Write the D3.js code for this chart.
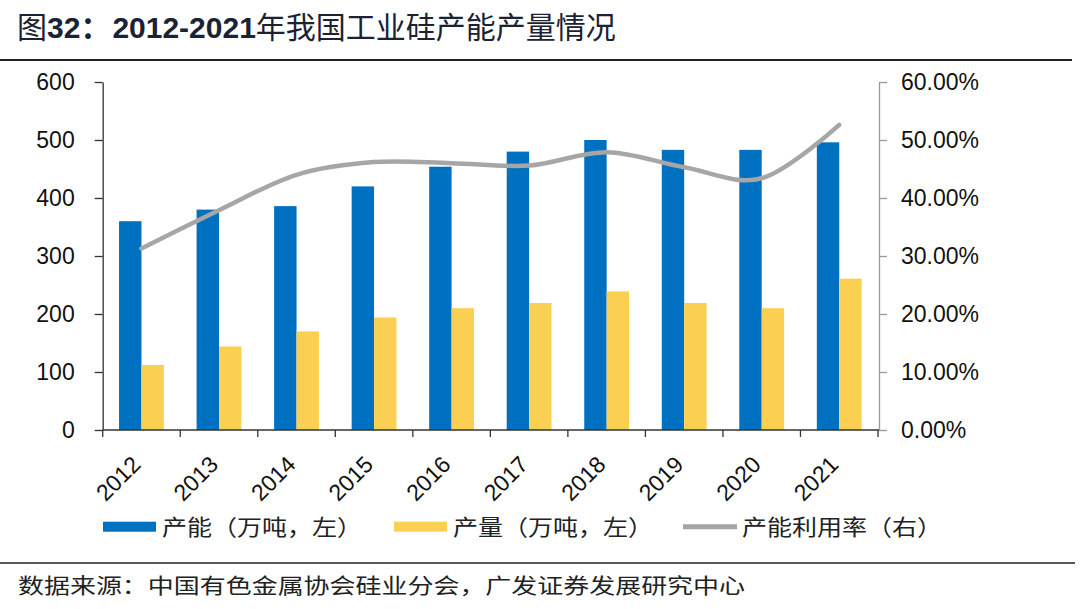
<!DOCTYPE html>
<html>
<head>
<meta charset="utf-8">
<script src="https://cdnjs.cloudflare.com/ajax/libs/d3/7.8.4/d3.min.js"></script>
<style>
  body { margin: 0; background: #fff; }
  svg { display: block; }
  .cn { font-family: "Noto Sans CJK SC", sans-serif; }
  .num { font-family: "Liberation Sans", Arial, sans-serif; }
</style>
</head>
<body>
<div id="chart"></div>
<script>
// data
const years = ["2012","2013","2014","2015","2016","2017","2018","2019","2020","2021"];
const capacity = [360, 380, 386, 420, 454, 480, 500, 483, 483, 496];     // 产能（万吨）
const output   = [112, 144, 170, 194, 210, 219, 239, 219, 210, 261];     // 产量（万吨）
const utilRate = [31.3, 37.9, 44.0, 46.2, 46.0, 45.6, 47.9, 45.3, 43.4, 52.6]; // 产能利用率 %
const leftTicks  = [0, 100, 200, 300, 400, 500, 600];
const rightTicks = [0, 10, 20, 30, 40, 50, 60];

(function(){
  const W = 1080, H = 609;
  const plot = {left: 102.7, right: 878, top: 82, bottom: 430};

  const svg = d3.select("#chart").append("svg")
      .attr("width", W).attr("height", H);

  // title
  const title = svg.append("text")
      .attr("x", 17).attr("y", 38)
      .style("font-size", "30px").style("fill", "#1a2233");
  title.append("tspan").attr("class", "cn").text("图");
  title.append("tspan").attr("class", "num").style("font-weight", "bold").text("32");
  title.append("tspan").attr("class", "cn").style("font-weight", "bold").text("：");
  title.append("tspan").attr("class", "num").style("font-weight", "bold").attr("dx", 2).text("2012-2021");
  title.append("tspan").attr("class", "cn").text("年我国工业硅产能产量情况");

  svg.append("line")
      .attr("x1", 0).attr("x2", 1072).attr("y1", 60).attr("y2", 60)
      .attr("stroke", "#222").attr("stroke-width", 2);

  // scales
  const x = d3.scaleBand().domain(years).range([plot.left, plot.right]).padding(0);
  const xs = d3.scaleBand().domain(["cap", "out"]).range([0, x.bandwidth()])
      .paddingInner(0).paddingOuter(0.73);
  const y = d3.scaleLinear().domain([0, 600]).range([plot.bottom, plot.top]);
  const yr = d3.scaleLinear().domain([0, 60]).range([plot.bottom, plot.top]);

  // bars
  const g = svg.append("g");
  g.selectAll("rect.cap").data(years).join("rect")
      .attr("class", "cap")
      .attr("x", (d) => x(d) + xs("cap"))
      .attr("width", xs.bandwidth())
      .attr("y", (d, i) => y(capacity[i]))
      .attr("height", (d, i) => y(0) - y(capacity[i]))
      .attr("fill", "#0070C0");
  g.selectAll("rect.out").data(years).join("rect")
      .attr("class", "out")
      .attr("x", (d) => x(d) + xs("out"))
      .attr("width", xs.bandwidth())
      .attr("y", (d, i) => y(output[i]))
      .attr("height", (d, i) => y(0) - y(output[i]))
      .attr("fill", "#FBD052");

  // left axis
  const yAxis = svg.append("g")
      .attr("transform", `translate(${plot.left},0)`)
      .call(d3.axisLeft(y).tickValues(leftTicks).tickSize(8).tickPadding(20).tickSizeOuter(0));
  yAxis.selectAll("text").attr("class", "num").style("font-size", "23px").style("fill", "#111");
  yAxis.selectAll("line, path").attr("stroke", "#333").attr("stroke-width", 1.3);

  // right axis
  const yrAxis = svg.append("g")
      .attr("transform", `translate(${plot.right + 1},0)`)
      .call(d3.axisRight(yr).tickValues(rightTicks).tickSize(8).tickPadding(14).tickSizeOuter(0)
        .tickFormat((d) => d.toFixed(2) + "%"));
  yrAxis.selectAll("text").attr("class", "num").style("font-size", "23px").style("fill", "#111");
  yrAxis.selectAll("line, path").attr("stroke", "#999").attr("stroke-width", 1.3);

  // x axis with ticks at band edges
  const xAxis = svg.append("g").attr("transform", `translate(0,${plot.bottom})`);
  xAxis.append("line")
      .attr("x1", plot.left).attr("x2", plot.right + 1)
      .attr("stroke", "#333").attr("stroke-width", 1.3);
  xAxis.selectAll("line.tk").data(years.concat(["end"])).join("line")
      .attr("class", "tk")
      .attr("x1", (d, i) => plot.left + i * x.step())
      .attr("x2", (d, i) => plot.left + i * x.step())
      .attr("y1", 0).attr("y2", 7)
      .attr("stroke", "#333").attr("stroke-width", 1.3);
  xAxis.selectAll("text").data(years).join("text")
      .attr("class", "num")
      .attr("transform", (d) => `translate(${x(d) + x.bandwidth() / 2 + 0.5},${36}) rotate(-45)`)
      .attr("text-anchor", "end")
      .style("font-size", "23px").style("fill", "#111")
      .text((d) => d);

  // utilisation line
  const line = d3.line()
      .x((d, i) => x(years[i]) + x.bandwidth() / 2)
      .y((d) => yr(d))
      .curve(d3.curveCatmullRom.alpha(0));
  svg.append("path")
      .datum(utilRate)
      .attr("d", line)
      .attr("fill", "none")
      .attr("stroke", "#A6A6A6")
      .attr("stroke-width", 4.5)
      .attr("stroke-linecap", "round");

  // legend
  const legend = svg.append("g").attr("transform", "translate(0,526.7)");
  const items = [
    {label: "产能（万吨，左）", x: 103, type: "rect", color: "#0070C0"},
    {label: "产量（万吨，左）", x: 394, type: "rect", color: "#FBD052"},
    {label: "产能利用率（右）", x: 683, type: "line", color: "#A6A6A6"}
  ];
  items.forEach(function(it) {
    if (it.type === "rect") {
      legend.append("rect").attr("x", it.x).attr("y", -5).attr("width", 53).attr("height", 10).attr("fill", it.color);
    } else {
      legend.append("line").attr("x1", it.x).attr("x2", it.x + 54).attr("y1", 0).attr("y2", 0)
        .attr("stroke", it.color).attr("stroke-width", 5);
    }
    legend.append("text").attr("class", "cn")
        .attr("x", it.x + 59).attr("y", 8)
        .attr("textLength", 200).attr("lengthAdjust", "spacingAndGlyphs")
        .style("font-size", "22px").style("fill", "#222")
        .text(it.label);
  });

  // footer
  svg.append("line")
      .attr("x1", 0).attr("x2", 1075).attr("y1", 563).attr("y2", 563)
      .attr("stroke", "#222").attr("stroke-width", 1.5);
  svg.append("text").attr("class", "cn")
      .attr("x", 18).attr("y", 593)
      .attr("textLength", 727).attr("lengthAdjust", "spacingAndGlyphs")
      .style("font-size", "21px").style("fill", "#222")
      .text("数据来源：中国有色金属协会硅业分会，广发证券发展研究中心");
})();
</script>
</body>
</html>
